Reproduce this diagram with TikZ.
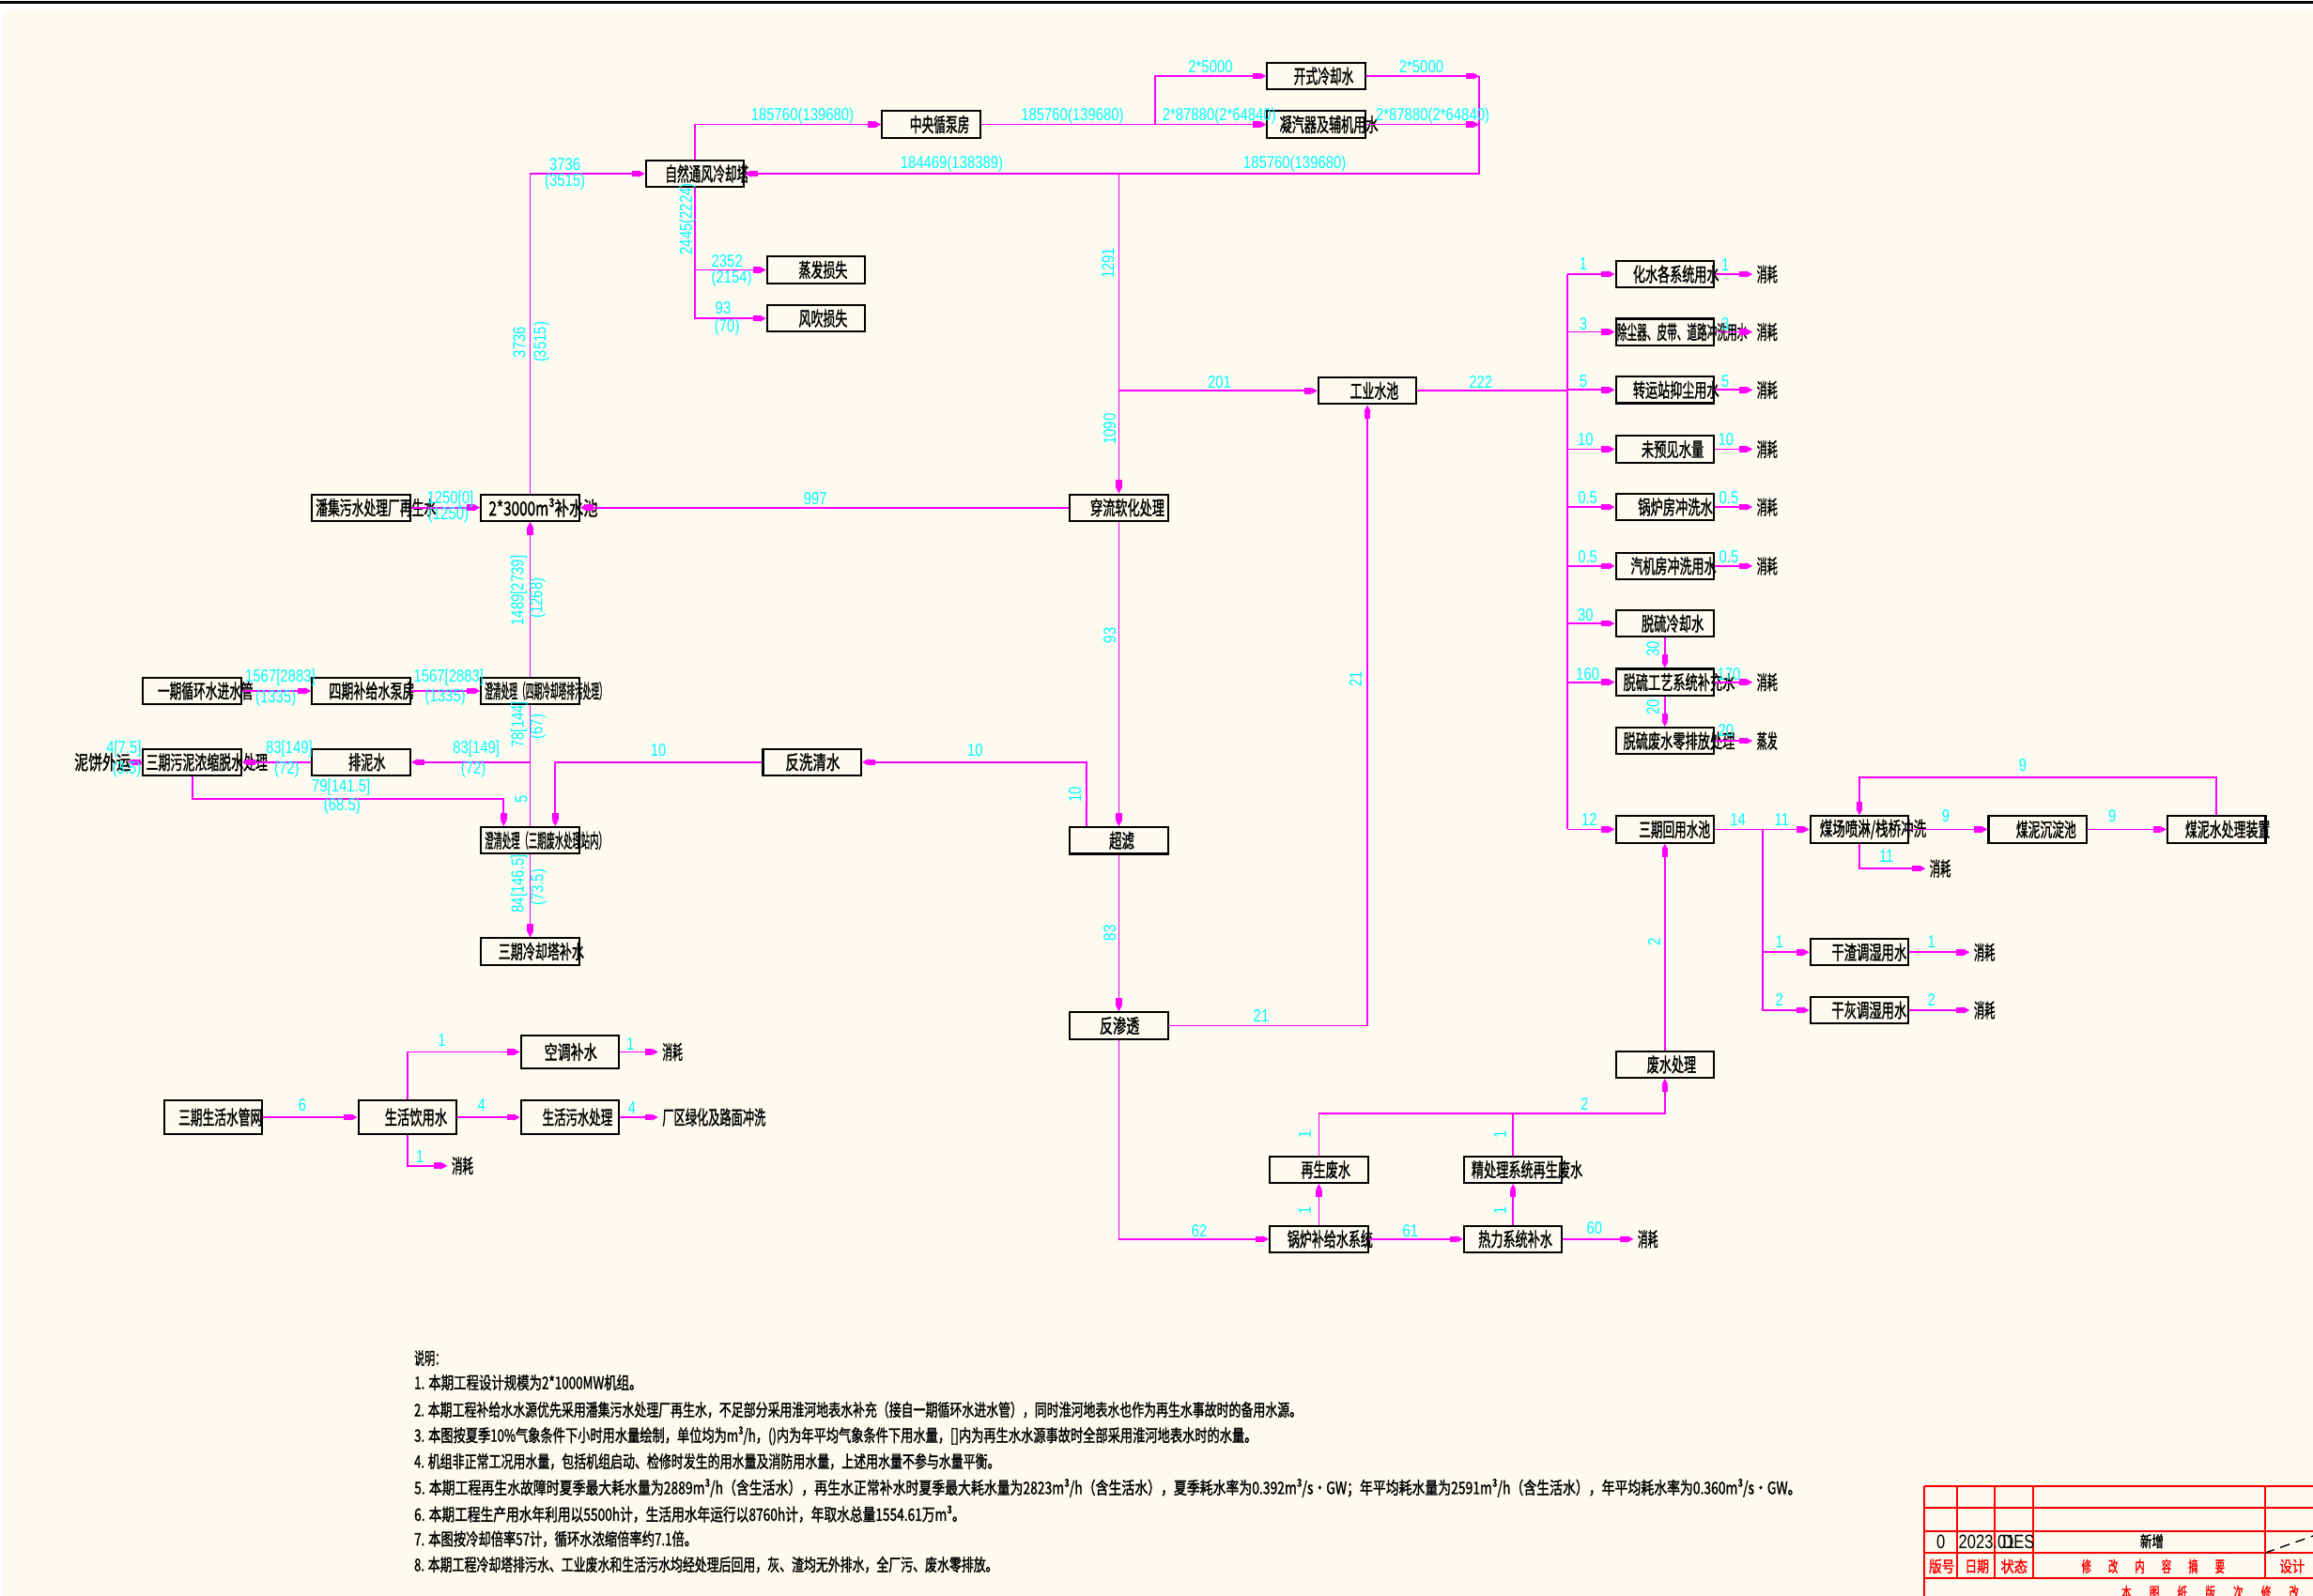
\documentclass[tikz,border=0pt]{standalone}
\usepackage{fontspec}
\usepackage{graphicx}
\setmainfont{Noto Sans CJK SC}
\newfontfamily\cjkb{Noto Sans CJK SC}[FakeBold=1.8]
\newfontfamily\cjkr{Noto Sans CJK SC}
\newfontfamily\numf{Liberation Sans}[FakeStretch=0.8]
\usetikzlibrary{arrows.meta}
\definecolor{mg}{RGB}{255,0,255}
\definecolor{cy}{RGB}{0,255,255}
\definecolor{bgc}{RGB}{253,251,240}
\definecolor{rd}{RGB}{255,0,0}
\newcounter{nn}
\newcommand\bx[3][18]{\node[bx,minimum height={#1*0.16mm}] (#2) at (#3) {};}
\newcommand\btx[4]{\stepcounter{nn}\pgfmathsetlengthmacro\tw{(#3-#1)*0.455243}\node[btxt,anchor=west] (t\thenn) at (#1,#2) {\resizebox{\tw}{\height}{#4}};}
\newcommand\ctx[5][black]{\stepcounter{nn}\pgfmathsetlengthmacro\tw{(#4-#2)*0.455243}\node[inner sep=0pt,anchor=west,text=#1,font=\cjkb\fontsize{4.8}{4.8}\selectfont] (c\thenn) at (#2,#3) {\resizebox{\tw}{\height}{#5}};}
\newcommand\ftx[5]{\pgfmathsetlengthmacro\tw{#4*0.455243}\node[btxt,anchor=west] (#1) at (#2,#3) {\resizebox{\tw}{\height}{#5}};}
\newcommand\lab[3][]{\stepcounter{nn}\node[lbl,#1] (l\thenn) at (#2) {#3};}
\newcommand\ntx[3]{\stepcounter{nn}\pgfmathsetlengthmacro\tw{#2*0.455243}\node[nt] (n\thenn) at (280.4,#1) {\resizebox{\tw}{\height}{#3}};}
\begin{document}
\begin{tikzpicture}[x=0.16mm,y=-0.16mm,
 bx/.style={draw=black,line width=0.6pt,minimum width=10.64mm,minimum height=2.88mm,inner sep=0pt},
 btxt/.style={inner sep=0pt,font=\cjkb\fontsize{6}{6}\selectfont},
 lbl/.style={inner sep=0pt,text=cy,font=\numf\fontsize{5.4}{5.4}\selectfont},
 ln/.style={draw=mg,line width=0.5pt},
 ar/.style={ln,-{Rectangle[length=2.2pt,width=1.9pt,sep=0pt]Triangle[length=1.9pt,width=1.9pt]}},
 nt/.style={inner sep=0pt,anchor=west,font=\cjkb\fontsize{5.3}{5.3}\selectfont}]
\useasboundingbox (0,0) rectangle (1568,1082);
\fill[white] (0,0) rectangle (1568,1082);
\fill[bgc] (2,7) rectangle (1568,1082);
\draw[line width=0.9pt] (0,1.6) -- (1568,1.6);

% ---------- boxes ----------
\bx{zr}{471.1,117.8} \btx{450.5}{117.8}{507.1}{自然通风冷却塔}
\bx{zy}{631.3,84.4} \btx{616.3}{84.4}{656.8}{中央循泵房}
\bx{ks}{892.3,51.6} \btx{876.6}{51.6}{917.2}{开式冷却水}
\bx{nq}{892.3,84.4} \btx{867}{84.4}{933.8}{凝汽器及辅机用水}
\bx{zf}{553.2,183} \btx{541}{183}{574}{蒸发损失}
\bx{fc}{553.2,215.9} \btx{541}{215.9}{574}{风吹损失}
\bx{gy}{927,265} \btx{914.8}{265}{947.6}{工业水池}
\bx{cl}{758.5,344.2} \btx{738.7}{344.2}{789}{穿流软化处理}
\bx{bs}{359.4,344.2} \btx{330.9}{344.2}{404.8}{2*3000m³补水池}
\bx{pj}{244.9,344.2} \btx{213.6}{344.2}{295.1}{潘集污水处理厂再生水}
\bx{yq}{130.3,468.5} \btx{106.5}{468.5}{171.2}{一期循环水进水管}
\bx{sq}{244.9,468.5} \btx{222.6}{468.5}{280.7}{四期补给水泵房}
\bx{hn}{359.4,468.5} \btx{328.2}{468.5}{411.3}{澄清处理（四期冷却塔排污处理）}
\bx{wn}{130.3,516.8} \btx{98.6}{516.8}{181}{三期污泥浓缩脱水处理}
\bx{pn}{244.9,516.8} \btx{235.8}{516.8}{260.9}{排泥水}
\bx{fx}{550.5,516.8} \btx{532}{516.8}{569}{反洗清水}
\bx{cq}{359.4,569.9} \btx{328.2}{569.9}{411.3}{澄清处理（三期废水处理站内）}
\bx{uf}{758.5,570} \btx{751.5}{570}{768.5}{超滤}
\bx{lq}{359.4,645.2} \btx{337.4}{645.2}{395.5}{三期冷却塔补水}
\bx{fs}{758.5,695.5} \btx{745}{695.5}{772}{反渗透}
\bx{gl}{894.1,840.2} \btx{872.3}{840.2}{930.2}{锅炉补给水系统}
\bx{rl}{1025.7,840.2} \btx{1001.7}{840.2}{1051.9}{热力系统补水}
\bx{zs}{894.1,793.1} \btx{881.5}{793.1}{915}{再生废水}
\bx{jc}{1025.7,793.1} \btx{997.1}{793.1}{1072.4}{精处理系统再生废水}
\bx{fw}{1128.6,721.8} \btx{1116}{721.8}{1149.4}{废水处理}
\bx{hy}{1128.6,562.4} \btx{1110.6}{562.4}{1158.9}{三期回用水池}
\bx{ra}{1128.6,185.9} \btx{1106.6}{185.9}{1164.9}{化水各系统用水}
\bx{rb}{1128.6,225.1} \btx{1095.7}{225.1}{1183.9}{除尘器、皮带、道路冲洗用水}
\bx{rc}{1128.6,264.4} \btx{1106.6}{264.4}{1164.9}{转运站抑尘用水}
\bx{rd}{1128.6,304.6} \btx{1112.3}{304.6}{1154.6}{未预见水量}
\bx{re}{1128.6,343.8} \btx{1110}{343.8}{1160.6}{锅炉房冲洗水}
\bx{rf}{1128.6,383.8} \btx{1105}{383.8}{1163}{汽机房冲洗用水}
\bx{rg}{1128.6,422.8} \btx{1112.3}{422.8}{1154.6}{脱硫冷却水}
\bx{rh}{1128.6,462.6} \btx{1100}{462.6}{1175.6}{脱硫工艺系统补充水}
\bx{ri}{1128.6,502.4} \btx{1100}{502.4}{1175.6}{脱硫废水零排放处理}
\bx{mc}{1260.5,562.4} \btx{1233.2}{562.4}{1305.4}{煤场喷淋/栈桥冲洗}
\bx{mn}{1381.3,562.4} \btx{1366.3}{562.4}{1407}{煤泥沉淀池}
\bx{ms}{1502.6,562.4} \btx{1480.9}{562.4}{1538.5}{煤泥水处理装置}
\bx{gz}{1260.5,645.7} \btx{1241.2}{645.7}{1292.1}{干渣调湿用水}
\bx{gh}{1260.5,685} \btx{1241.2}{685}{1292.1}{干灰调湿用水}
\bx[22.5]{sh}{144.6,757.6} \btx{120.6}{757.6}{177.3}{三期生活水管网}
\bx[22.5]{yy}{276.2,757.6} \btx{260.4}{757.6}{302.7}{生活饮用水}
\bx[22]{kt}{386.4,713.3} \btx{368.6}{713.3}{404.3}{空调补水}
\bx[22.5]{ws}{386.4,757.6} \btx{367.3}{757.6}{414.8}{生活污水处理}

% ---------- free texts ----------
\ftx{xa}{1190.5}{185.9}{14}{消耗}
\ftx{xb}{1190.5}{225.1}{14}{消耗}
\ftx{xc}{1190.5}{264.4}{14}{消耗}
\ftx{xd}{1190.5}{304.6}{14}{消耗}
\ftx{xe}{1190.5}{343.8}{14}{消耗}
\ftx{xf}{1190.5}{383.8}{14}{消耗}
\ftx{xh}{1190.5}{462.6}{14}{消耗}
\ftx{xi}{1190.5}{502.4}{14}{蒸发}
\ftx{xm}{1307.7}{588.9}{14.4}{消耗}
\ftx{xz}{1337.7}{645.7}{14.3}{消耗}
\ftx{xg}{1337.7}{685}{14.3}{消耗}
\ftx{xr}{1109.8}{840.2}{13.7}{消耗}
\ftx{xk}{448.6}{713.3}{13.7}{消耗}
\ftx{xl}{448.6}{757.6}{70}{厂区绿化及路面冲洗}
\ftx{xy}{305.8}{790.5}{14.6}{消耗}
\ftx{nb}{50}{516.8}{38}{泥饼外运}

% ---------- connectors ----------
\coordinate (b1) at (783,84.4);
\coordinate (e1) at (1002.8,51.6);
\coordinate (e2) at (1002.8,84.4);
\coordinate (j1) at (758.5,117.8);
\coordinate (j2) at (758.5,265);
\coordinate (k0) at (359.4,516.8);
\coordinate (k1) at (341.4,541.6);
\coordinate (k2) at (736.4,516.8);
\coordinate (k3) at (376.4,516.8);
\coordinate (k6) at (893.6,755);
\coordinate (k7) at (1194.9,562.4);
\coordinate (k8) at (1502.6,527.3);
\coordinate (bu1) at (1062.5,185.9);
\coordinate (bu2) at (1062.5,562.4);

\draw[ar] (bs.north) |- (zr.west);
\draw[ar] (zr.north) |- (zy.west);
\draw[ar] (zy.east) -- (nq.west);
\draw[ar] (b1) |- (ks.west);
\draw[ar] (ks.east) -- (e1);
\draw[ar] (nq.east) -- (e2);
\draw[ar] (e1) |- (zr.east);
\draw[ar] (j1) -- (cl.north);
\draw[ar] (j2) -- (gy.west);
\draw[ar] (zr.south) |- (fc.west);
\draw[ar] (zr.south |- zf.west) -- (zf.west);
\draw[ar] (cl.west) -- (bs.east);
\draw[ar] (pj.east) -- (bs.west);
\draw[ar] (hn.north) -- (bs.south);
\draw[ar] (yq.east) -- (sq.west);
\draw[ar] (sq.east) -- (hn.west);
\draw[ln] (hn.south) -- (cq.north);
\draw[ar] (k0) -- (pn.east);
\draw[ar] (pn.west) -- (wn.east);
\draw[ar] (wn.west) -- ([xshift=-1.1pt]nb.east);
\draw[ar] (wn.south) |- (k1) -- (k1 |- cq.north);
\draw[ar] (k2 |- uf.north) -- (k2) -- (fx.east);
\draw[ar] (fx.west) -- (k3) -- (k3 |- cq.north);
\draw[ar] (cl.south) -- (uf.north);
\draw[ar] (uf.south) -- (fs.north);
\draw[ar] (fs.east) -| (gy.south);
\draw[ar] (fs.south) |- (gl.west);
\draw[ar] (gl.east) -- (rl.west);
\draw[ar] (rl.east) -- ([xshift=-1.1pt]xr.west);
\draw[ar] (gl.north) -- (zs.south);
\draw[ar] (rl.north) -- (jc.south);
\draw[ar] (zs.north) -- (zs.north |- k6) -| (fw.south);
\draw[ln] (jc.north) -- (jc.north |- k6);
\draw[ar] (fw.north) -- (hy.south);
\draw[ln] (gy.east) -- (bu1 |- gy.east);
\draw[ln] (bu1) -- (bu2);
\foreach \r in {ra,rb,rc,rd,re,rf,rg,rh} {\draw[ar] (bu1 |- \r.west) -- (\r.west);}
\draw[ar] (bu2) -- (hy.west);
\foreach \r/\x in {ra/xa,rb/xb,rc/xc,rd/xd,re/xe,rf/xf,rh/xh,ri/xi} {\draw[ar] (\r.east) -- ([xshift=-1.1pt]\x.west);}
\draw[ar] (rg.south) -- (rh.north);
\draw[ar] (rh.south) -- (ri.north);
\draw[ar] (hy.east) -- (mc.west);
\draw[ar] (k7) |- (gh.west);
\draw[ar] (k7 |- gz.west) -- (gz.west);
\draw[ar] (mc.east) -- (mn.west);
\draw[ar] (mn.east) -- (ms.west);
\draw[ar] (ms.north) -- (k8) -| (mc.north);
\draw[ar] (mc.south) |- ([xshift=-1.1pt]xm.west);
\draw[ar] (gz.east) -- ([xshift=-1.1pt]xz.west);
\draw[ar] (gh.east) -- ([xshift=-1.1pt]xg.west);
\draw[ar] (cq.south) -- (lq.north);
\draw[ar] (sh.east) -- (yy.west);
\draw[ar] (yy.north) |- (kt.west);
\draw[ar] (yy.east) -- (ws.west);
\draw[ar] (kt.east) -- ([xshift=-1.1pt]xk.west);
\draw[ar] (ws.east) -- ([xshift=-1.1pt]xl.west);
\draw[ar] (yy.south) |- ([xshift=-1.1pt]xy.west);

% ---------- labels ----------
\lab{383,111.5}{3736} \lab{383,123.5}{(3515)}
\lab[rotate=90]{352,232}{3736} \lab[rotate=90]{367,232}{(3515)}
\lab{544,78.5}{185760(139680)} \lab{727,78.5}{185760(139680)}
\lab{826.5,78.5}{2*87880(2*64840)} \lab{971.2,78.5}{2*87880(2*64840)}
\lab{820.6,45}{2*5000} \lab{963.5,45}{2*5000}
\lab{877.7,111.4}{185760(139680)} \lab{645.2,111.4}{184469(138389)}
\lab[rotate=90]{466,148.5}{2445(2224)}
\lab{492.9,177.2}{2352} \lab{496,188.9}{(2154)}
\lab{490.2,209}{93} \lab{492.9,221.8}{(70)}
\lab[rotate=90]{751.2,178.5}{1291} \lab[rotate=90]{752.3,291}{1090}
\lab{826.7,259}{201} \lab{1003.8,259}{222}
\lab{552.8,337.8}{997} \lab{305.2,338.5}{1250[0]} \lab{304,349.6}{(1250)}
\lab[rotate=90]{351.8,400.5}{1489[2739]} \lab[rotate=90]{364.5,405.6}{(1268)}
\lab{190,459.4}{1567[2883]} \lab{187,473.2}{(1335)}
\lab{304.2,459.4}{1567[2883]} \lab{301.9,472.6}{(1335)}
\lab[rotate=90]{351.9,491.3}{78[144]} \lab[rotate=90]{364.6,492.8}{(67)}
\lab{196,507.6}{83[149]} \lab{194.4,522}{(72)}
\lab{322.9,507.6}{83[149]} \lab{320.9,522}{(72)}
\lab{84,508}{4[7.5]} \lab{86,522}{(3.5)}
\lab{231.2,533.7}{79[141.5]} \lab{232,546.4}{(68.5)}
\lab[rotate=90]{353.3,542.2}{5}
\lab{446.4,508.9}{10} \lab{661,509}{10} \lab[rotate=90]{728.7,538.9}{10}
\lab[rotate=90]{752.3,430.9}{93} \lab[rotate=90]{752.3,632.7}{83}
\lab[rotate=90]{919,460.7}{21} \lab{855,689}{21}
\lab[rotate=90]{351.9,599.3}{84[146.5]} \lab[rotate=90]{365.1,601.9}{(73.5)}
\lab{813,834.4}{62} \lab{956.1,834.4}{61} \lab{1080.9,832.9}{60}
\lab[rotate=90]{884.5,820.8}{1} \lab[rotate=90]{884.5,769.2}{1}
\lab[rotate=90]{1016.9,820.8}{1} \lab[rotate=90]{1016.9,769.2}{1}
\lab{1074.2,748.7}{2} \lab[rotate=90]{1121.3,638.7}{2}
\lab{1073.4,179.1}{1} \lab{1073.4,219.4}{3} \lab{1073.4,258.5}{5}
\lab{1074.9,298.3}{10} \lab{1076.3,337.6}{0.5} \lab{1076.3,377.4}{0.5}
\lab{1074.9,417.1}{30} \lab{1076.3,456.9}{160} \lab{1077.4,556}{12}
\lab{1169.6,179.6}{1} \lab{1169.6,219.4}{3} \lab{1169.6,258.5}{5}
\lab{1170,298.3}{10} \lab{1172,337.6}{0.5} \lab{1172,377.4}{0.5}
\lab{1172,456.9}{170} \lab{1170,495.1}{20}
\lab[rotate=90]{1120.6,439.9}{30} \lab[rotate=90]{1120.6,479.6}{20}
\lab{1178.2,555.6}{14} \lab{1207.9,555.6}{11}
\lab{1319,553.4}{9} \lab{1431.9,553.4}{9} \lab{1371.3,518.8}{9}
\lab{1278.8,580.4}{11}
\lab{1206.2,638.7}{1} \lab{1309.4,638.7}{1}
\lab{1206.2,678}{2} \lab{1309.4,678}{2}
\lab{205,749.5}{6} \lab{299.5,705.6}{1} \lab{326.4,749.5}{4}
\lab{427.4,707.7}{1} \lab{428.5,751.2}{4} \lab{284.7,784.1}{1}

% ---------- notes ----------
\ntx{921}{21}{说明：}
\ntx{937.5}{154.3}{1. 本期工程设计规模为2*1000MW机组。}
\ntx{956}{601.6}{2. 本期工程补给水水源优先采用潘集污水处理厂再生水，不足部分采用淮河地表水补充（接自一期循环水进水管），同时淮河地表水也作为再生水事故时的备用水源。}
\ntx{973.6}{571.2}{3. 本图按夏季10\%气象条件下小时用水量绘制，单位均为m³/h，()内为年平均气象条件下用水量，[]内为再生水水源事故时全部采用淮河地表水时的水量。}
\ntx{991}{396.9}{4. 机组非正常工况用水量，包括机组启动、检修时发生的用水量及消防用水量，上述用水量不参与水量平衡。}
\ntx{1009}{939.9}{5. 本期工程再生水故障时夏季最大耗水量为2889m³/h（含生活水），再生水正常补水时夏季最大耗水量为2823m³/h（含生活水），夏季耗水率为0.392m³/s·GW；年平均耗水量为2591m³/h（含生活水），年平均耗水率为0.360m³/s·GW。}
\ntx{1026.7}{373.4}{6. 本期工程生产用水年利用以5500h计，生活用水年运行以8760h计，年取水总量1554.61万m³。}
\ntx{1043.6}{191.6}{7. 本图按冷却倍率57计，循环水浓缩倍率约7.1倍。}
\ntx{1061}{395.6}{8. 本期工程冷却塔排污水、工业废水和生活污水均经处理后回用，灰、渣均无外排水，全厂污、废水零排放。}

% ---------- title block ----------
\foreach \yy in {1007.8,1022.4,1038.3,1053,1070.2} {\draw[rd,line width=0.5pt] (1304.4,\yy) -- (1568,\yy);}
\draw[rd,line width=0.5pt] (1304.4,1007.8) -- (1304.4,1082);
\foreach \xx in {1326.7,1352.2,1378.3,1535.5} {\draw[rd,line width=0.5pt] (\xx,1007.8) -- (\xx,1070.2);}
\draw[black,line width=0.4pt,densely dashed] (1535.5,1053) -- (1568,1041.5);
\stepcounter{nn}\node[inner sep=0pt,font=\numf\fontsize{6}{6}\selectfont] (tb\thenn) at (1315.7,1045.6) {0};
\stepcounter{nn}\node[inner sep=0pt,anchor=west,font=\numf\fontsize{6}{6}\selectfont] (tb\thenn) at (1327.3,1045.6) {2023.01};
\stepcounter{nn}\node[inner sep=0pt,anchor=west,font=\numf\fontsize{6}{6}\selectfont] (tb\thenn) at (1357.1,1045.6) {DES};
\ctx{1450.4}{1045.1}{1466.3}{新增}
\ctx[rd]{1307.2}{1062.1}{1324.6}{版号}
\ctx[rd]{1331.6}{1062.1}{1347.9}{日期}
\ctx[rd]{1356}{1062.1}{1374}{状态}
\ctx[rd]{1410.7}{1062.1}{1507.7}{修\hspace{3mm}改\hspace{3mm}内\hspace{3mm}容\hspace{3mm}摘\hspace{3mm}要}
\ctx[rd]{1544.9}{1062.1}{1561.9}{设计}
\ctx[rd]{1437.7}{1080}{1577}{本\hspace{3mm}图\hspace{3mm}纸\hspace{3mm}版\hspace{3mm}次\hspace{3mm}修\hspace{3mm}改\hspace{3mm}记}
\end{tikzpicture}
\end{document}
